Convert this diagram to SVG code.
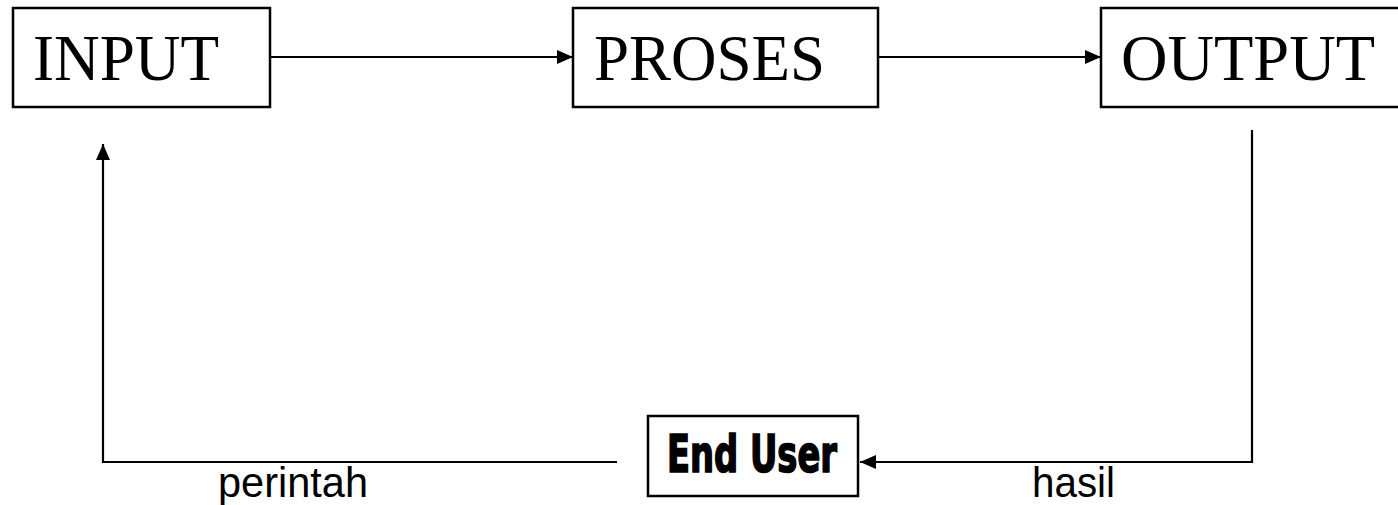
<svg xmlns="http://www.w3.org/2000/svg" width="1398" height="505" viewBox="0 0 1398 505">
<style>
.box{fill:#fff;stroke:#000;stroke-width:2.5}
.big{font-family:"Liberation Serif","Times New Roman",serif;font-size:66px;fill:#000}
.eu{font-family:Impact,"Liberation Sans Narrow","DejaVu Sans Condensed",sans-serif;font-weight:bold;font-size:51px;fill:#000;stroke:#000;stroke-width:1.6}
.lbl{font-family:"Liberation Sans",Arial,sans-serif;font-size:42px;fill:#000}
.con{fill:none;stroke:#000;stroke-width:2.2}
</style>
<defs>
<marker id="ah" viewBox="0 0 16 14" refX="16" refY="7" markerWidth="16" markerHeight="14" markerUnits="userSpaceOnUse" orient="auto">
<path d="M0,0 L16,7 L0,14 Z" fill="#000"/>
</marker>
</defs>
<g id="input"><rect class="box" x="13" y="8" width="257" height="99"/><text class="big" x="33" y="80" textLength="186" lengthAdjust="spacingAndGlyphs">INPUT</text></g>
<g id="proses"><rect class="box" x="573" y="8" width="305" height="99"/><text class="big" x="594" y="80" textLength="231" lengthAdjust="spacingAndGlyphs">PROSES</text></g>
<g id="output"><rect class="box" x="1101" y="8" width="310" height="99"/><text class="big" x="1121" y="80" textLength="254" lengthAdjust="spacingAndGlyphs">OUTPUT</text></g>
<g id="enduser"><rect class="box" x="648" y="416" width="210" height="80"/><text class="eu" x="667" y="472" textLength="170" lengthAdjust="spacingAndGlyphs">End User</text></g>
<g id="connectors">
<line class="con" x1="270" y1="57" x2="573" y2="57" marker-end="url(#ah)"/>
<line class="con" x1="878" y1="57" x2="1101" y2="57" marker-end="url(#ah)"/>
<polyline class="con" points="1252,130 1252,462 860,462" marker-end="url(#ah)"/>
<polyline class="con" points="617,462 103,462 103,144" marker-end="url(#ah)"/>
<text class="lbl" x="218" y="497" textLength="150" lengthAdjust="spacingAndGlyphs">perintah</text>
<text class="lbl" x="1032" y="497" textLength="83" lengthAdjust="spacingAndGlyphs">hasil</text>
</g>
</svg>
